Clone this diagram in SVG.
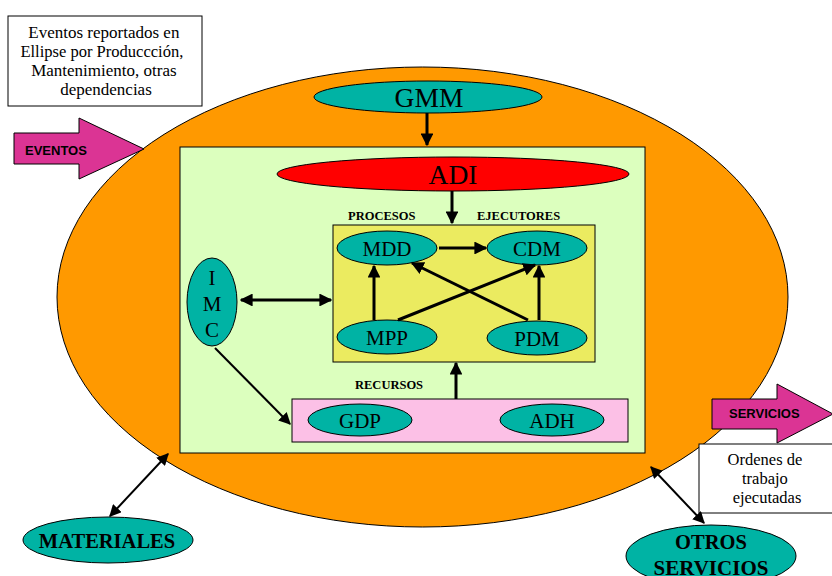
<svg xmlns="http://www.w3.org/2000/svg" width="832" height="576" viewBox="0 0 832 576">
  <style>
    .serif { font-family: "Liberation Serif", "Times New Roman", serif; fill: #000; }
    .sans { font-family: "Liberation Sans", Arial, sans-serif; fill: #000; }
    .teal { fill: #00B3A4; stroke: #000; stroke-width: 1; }
    .box { fill: #fff; stroke: #000; stroke-width: 1; }
    .flow { fill: #DB3494; stroke: #000; stroke-width: 1; }
    .line { stroke: #000; stroke-width: 3; fill: none; }
    .thin { stroke: #000; stroke-width: 2; fill: none; }
    .lbl { font-size: 21px; text-anchor: middle; }
    .cap { font-size: 12.5px; font-weight: bold; }
  </style>
  <defs>
    <marker id="ah" viewBox="0 0 10 10" refX="9" refY="5" markerWidth="4.3" markerHeight="4.3" markerUnits="strokeWidth" orient="auto-start-reverse">
      <path d="M0,0 L10,5 L0,10 z" fill="#000"/>
    </marker>
    <marker id="ahs" viewBox="0 0 10 10" refX="9" refY="5" markerWidth="6" markerHeight="6" markerUnits="strokeWidth" orient="auto-start-reverse">
      <path d="M0,0 L10,5 L0,10 z" fill="#000"/>
    </marker>
  </defs>

  <rect width="832" height="576" fill="#fff"/>

  <!-- outer organisation ellipse -->
  <g id="organizacion">
    <ellipse cx="422.5" cy="297" rx="365.5" ry="230" fill="#FF9900" stroke="#000" stroke-width="1"/>
  </g>

  <!-- inner area -->
  <g id="area">
    <rect x="180" y="147" width="465" height="306" fill="#DCFFBE" stroke="#000" stroke-width="1"/>
  </g>

  <g id="nota-eventos">
    <rect class="box" x="8" y="16" width="194" height="90"/>
    <text class="serif" font-size="17" text-anchor="middle">
      <tspan x="106" y="38">Eventos reportados en</tspan>
      <tspan x="104" y="57" textLength="163" lengthAdjust="spacingAndGlyphs">Ellipse por Produccción,</tspan>
      <tspan x="106" y="76">Mantenimiento, otras</tspan>
      <tspan x="106" y="95">dependencias</tspan>
    </text>
  </g>

  <g id="eventos">
    <polygon class="flow" points="14,133 79,133 79,118 144,149 79,179 79,164 14,164"/>
    <text class="sans" x="25" y="155" font-size="13" font-weight="bold">EVENTOS</text>
  </g>

  <g id="servicios">
    <polygon class="flow" points="712,399 777,399 777,384 833,414 777,443 777,429 712,429"/>
    <text class="sans" x="729" y="418" font-size="13" font-weight="bold">SERVICIOS</text>
  </g>

  <g id="nota-ordenes">
    <rect class="box" x="699" y="444" width="140" height="69"/>
    <text class="serif" font-size="16.5" text-anchor="middle">
      <tspan x="767" y="465">Ordenes de</tspan>
      <tspan x="767" y="484">trabajo</tspan>
      <tspan x="767" y="503">ejecutadas</tspan>
    </text>
  </g>

  <g id="gmm">
    <ellipse class="teal" cx="428" cy="97" rx="114" ry="16"/>
    <text class="serif" x="429" y="107" font-size="27.5" text-anchor="middle">GMM</text>
  </g>

  <g id="adi">
    <ellipse cx="453" cy="174" rx="176" ry="17" fill="#FF0000" stroke="#000" stroke-width="1"/>
    <text class="serif" x="453" y="184" font-size="27.5" text-anchor="middle">ADI</text>
  </g>

  <g id="procesos">
    <rect x="333" y="225" width="262" height="137" fill="#EBEB60" stroke="#000" stroke-width="1"/>
    <text class="serif cap" x="348" y="220">PROCESOS</text>
    <text class="serif cap" x="477" y="220">EJECUTORES</text>
  </g>

  <g id="mdd">
    <ellipse class="teal" cx="387" cy="248" rx="50" ry="17"/>
    <text class="serif lbl" x="387" y="256">MDD</text>
  </g>
  <g id="cdm">
    <ellipse class="teal" cx="537" cy="248" rx="50" ry="17"/>
    <text class="serif lbl" x="537" y="256">CDM</text>
  </g>
  <g id="mpp">
    <ellipse class="teal" cx="387" cy="337" rx="50" ry="17"/>
    <text class="serif lbl" x="387" y="345">MPP</text>
  </g>
  <g id="pdm">
    <ellipse class="teal" cx="537" cy="338" rx="50" ry="17"/>
    <text class="serif lbl" x="537" y="346">PDM</text>
  </g>

  <g id="imc">
    <ellipse class="teal" cx="212" cy="302" rx="25" ry="44"/>
    <text class="serif lbl" x="212" y="285">I</text>
    <text class="serif lbl" x="212" y="311">M</text>
    <text class="serif lbl" x="212" y="337">C</text>
  </g>

  <g id="recursos">
    <rect x="292" y="399" width="336" height="43" fill="#FCC0E6" stroke="#000" stroke-width="1"/>
    <text class="serif cap" x="355" y="389">RECURSOS</text>
  </g>
  <g id="gdp">
    <ellipse class="teal" cx="360" cy="420" rx="52" ry="16"/>
    <text class="serif lbl" x="360" y="428">GDP</text>
  </g>
  <g id="adh">
    <ellipse class="teal" cx="552" cy="420" rx="52" ry="16"/>
    <text class="serif lbl" x="552" y="428">ADH</text>
  </g>

  <g id="materiales">
    <ellipse class="teal" cx="108" cy="540" rx="85" ry="23"/>
    <text class="serif" x="107" y="548" font-size="20.5" font-weight="bold" text-anchor="middle">MATERIALES</text>
  </g>

  <g id="otros-servicios">
    <ellipse class="teal" cx="711" cy="556" rx="85" ry="31"/>
    <text class="serif" x="711" y="549" font-size="20.5" font-weight="bold" text-anchor="middle">OTROS</text>
    <text class="serif" x="711" y="575" font-size="21" font-weight="bold" text-anchor="middle">SERVICIOS</text>
  </g>

  <!-- connectors -->
  <g id="conectores">
    <line class="line" x1="427" y1="113" x2="427" y2="145" marker-end="url(#ah)"/>
    <line class="line" x1="452" y1="191" x2="452" y2="223" marker-end="url(#ah)"/>
    <line class="line" x1="439" y1="248" x2="486" y2="248" marker-end="url(#ah)"/>
    <line class="line" x1="374" y1="320" x2="374" y2="266" marker-end="url(#ah)"/>
    <line class="line" x1="539" y1="320" x2="539" y2="266" marker-end="url(#ah)"/>
    <line class="line" x1="398" y1="320" x2="535" y2="265" marker-end="url(#ah)"/>
    <line class="line" x1="528" y1="320" x2="412" y2="263" marker-end="url(#ah)"/>
    <line class="line" x1="241" y1="300" x2="331" y2="300" marker-start="url(#ah)" marker-end="url(#ah)"/>
    <line class="thin" x1="215" y1="348" x2="290" y2="424" marker-end="url(#ahs)"/>
    <line class="line" x1="456" y1="399" x2="456" y2="363" marker-end="url(#ah)"/>
    <line class="thin" x1="110" y1="516" x2="168" y2="454" marker-start="url(#ahs)" marker-end="url(#ahs)"/>
    <line class="thin" x1="651" y1="467" x2="704" y2="523" marker-start="url(#ahs)" marker-end="url(#ahs)"/>
  </g>
</svg>
